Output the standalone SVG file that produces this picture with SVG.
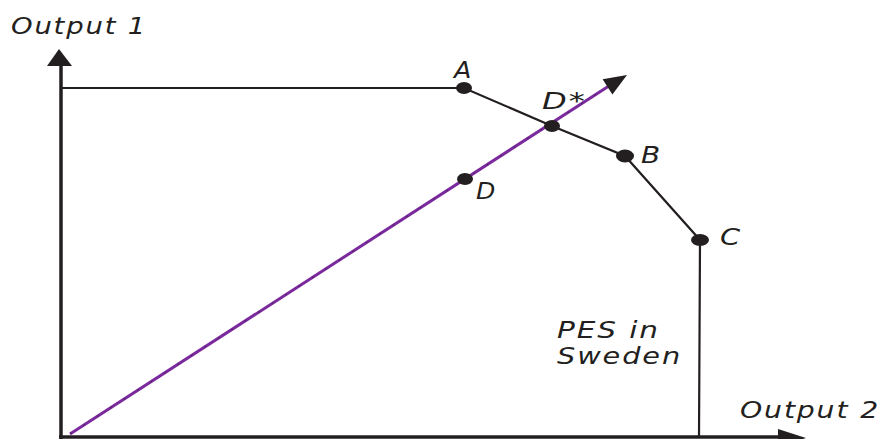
<svg xmlns="http://www.w3.org/2000/svg" width="884" height="439" viewBox="0 0 884 439">
<style>
.t{font-family:"DejaVu Sans","Verdana",sans-serif;font-style:italic;font-size:23px;letter-spacing:1.5px;fill:#231f20}
.ln{stroke:#231f20;stroke-width:2.2;fill:none}
.ax{stroke:#231f20;stroke-width:3.5;fill:none}
.dot{fill:#231f20}
.ah{fill:#231f20}
</style>
<rect width="884" height="439" fill="#fff"/>
<g id="connectors">
  <line class="ax" x1="61" y1="62" x2="61" y2="439"/>
  <polygon class="ah" points="59,49 47,66 72,66"/>
  <line class="ax" x1="59" y1="437" x2="782" y2="437"/>
  <polygon class="ah" points="806,438 778,429 778,447"/>
  <polyline class="ln" points="62,88 464,88 552,126 625,156 700,240 699,438"/>
  <line x1="70" y1="434" x2="612" y2="84" stroke="#7b2a9e" stroke-width="3"/>
  <line x1="70" y1="434" x2="612" y2="84" stroke="#231f20" stroke-width="1" stroke-dasharray="2 14" opacity="0.6"/>
  <polygon class="ah" points="627,75 612.4,94.5 602.6,79.3"/>
</g>
<g id="axis-y-label"><text class="t" x="11" y="34" textLength="136" lengthAdjust="spacingAndGlyphs">Output 1</text></g>
<g id="axis-x-label"><text class="t" x="740" y="418" textLength="140" lengthAdjust="spacingAndGlyphs">Output 2</text></g>
<g id="node-A"><ellipse class="dot" cx="464" cy="88" rx="8" ry="6"/><text class="t" x="454" y="78" textLength="19" lengthAdjust="spacingAndGlyphs">A</text></g>
<g id="node-Dstar"><ellipse class="dot" cx="552" cy="126" rx="8" ry="6"/><text class="t" x="542" y="109" textLength="45" lengthAdjust="spacingAndGlyphs">D*</text></g>
<g id="node-B"><ellipse class="dot" cx="625" cy="156" rx="9" ry="6.5"/><text class="t" x="641" y="163" textLength="21" lengthAdjust="spacingAndGlyphs">B</text></g>
<g id="node-C"><ellipse class="dot" cx="700" cy="240" rx="9" ry="6"/><text class="t" x="720" y="245" textLength="22" lengthAdjust="spacingAndGlyphs">C</text></g>
<g id="node-D"><ellipse class="dot" cx="465" cy="179" rx="8" ry="6"/><text class="t" x="476" y="199" textLength="21" lengthAdjust="spacingAndGlyphs">D</text></g>
<g id="label-PES"><text class="t" x="557" y="338" textLength="103" lengthAdjust="spacingAndGlyphs">PES in</text><text class="t" x="557" y="364" textLength="125" lengthAdjust="spacingAndGlyphs">Sweden</text></g>
</svg>
